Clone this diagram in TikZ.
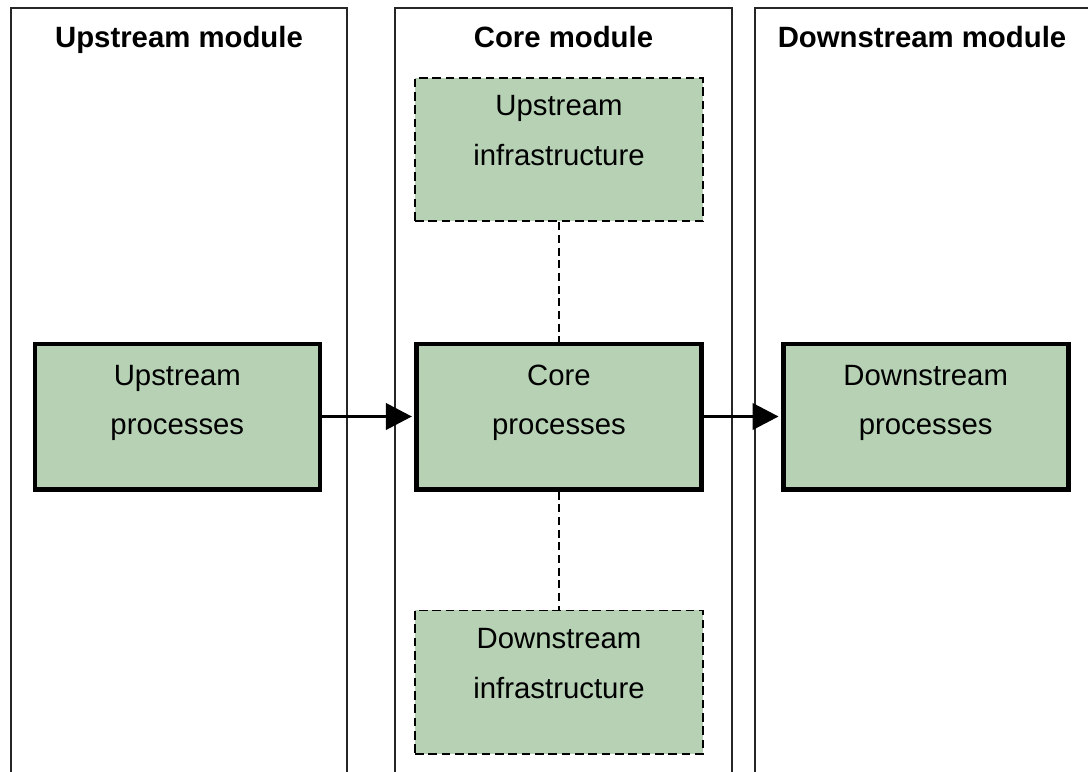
\documentclass[tikz,border=0pt]{standalone}
\usepackage{fontspec}
\setmainfont{Liberation Sans}
\usepackage{xcolor}
\usetikzlibrary{arrows.meta,positioning}
\definecolor{procgreen}{RGB}{182,209,180}

\begin{document}
\begin{tikzpicture}[
    x=0.75pt, y=-0.75pt,
    module/.style={draw=black!85, line width=1pt},
    title/.style={font=\fontsize{22}{26}\selectfont\bfseries, anchor=base},
    process/.style={rectangle, draw, fill=procgreen, line width=3.5pt, minimum width=213.75pt, minimum height=109pt, align=center, text depth=25.6pt, font=\fontsize{22}{36.75}\selectfont},
    infra/.style={rectangle, draw, dash pattern=on 6.5pt off 3.5pt, fill=procgreen, line width=1.4pt, minimum width=216pt, minimum height=107.5pt, align=center, text depth=28pt, font=\fontsize{22}{37.5}\selectfont},
    arrow/.style={line width=1.6pt, -{Triangle[length=19.5pt,width=20pt]}, shorten >=1.75pt},
    link/.style={line width=1.3pt, dash pattern=on 6pt off 3.5pt}
]
\useasboundingbox (0,0) rectangle (1088,771);
\clip (0,0) rectangle (1088,771);

% Module frames (open at the bottom)
\draw[module] (11,8) rectangle (347,790);
\draw[module] (395,8) rectangle (732,790);
\draw[module] (755,8) rectangle (1093,790);

\node[title] (up_title) at (179,47) {Upstream module};
\node[title] (core_title) at (563.5,47) {Core module};
\node[title] (down_title) at (922,47) {Downstream module};

% Middle row - processes
\node[process] (core_proc) at (559,416.5) {Core\\processes};
\node[process, left=69pt of core_proc] (up_proc) {Upstream\\processes};
\node[process, right=57.75pt of core_proc] (down_proc) {Downstream\\processes};

% Core column - infrastructure
\node[infra, above=89.5pt of core_proc] (up_infra) {Upstream\\infrastructure};
\node[infra, below=88.5pt of core_proc] (down_infra) {Downstream\\infrastructure};

% Arrows
\draw[arrow] (up_proc) -- (core_proc);
\draw[arrow] (core_proc) -- (down_proc);
\draw[link] (up_infra) -- (core_proc);
\draw[link] (core_proc) -- (down_infra);

\end{tikzpicture}
\end{document}
